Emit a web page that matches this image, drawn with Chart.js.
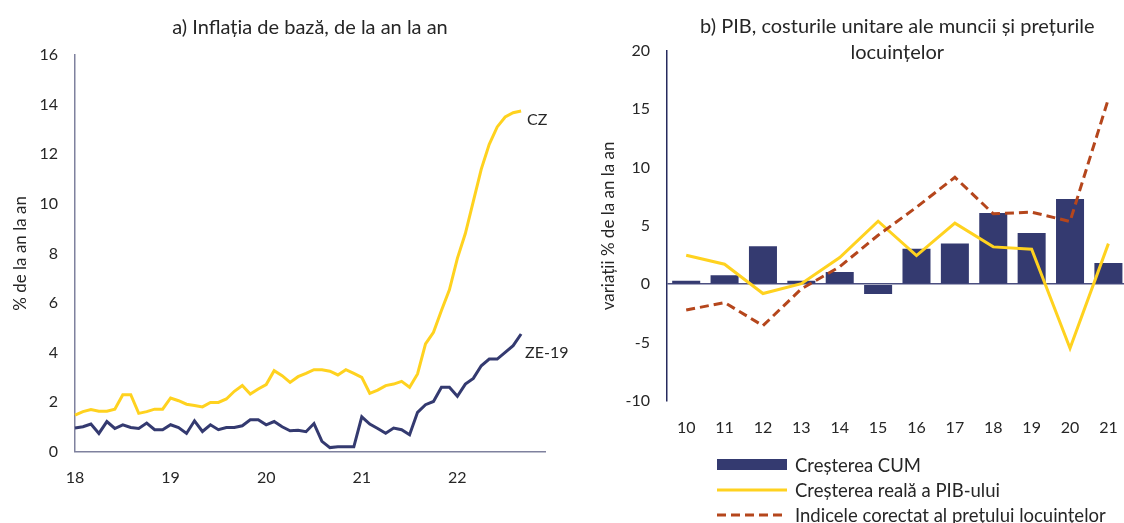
<!DOCTYPE html>
<html>
<head>
<meta charset="utf-8">
<script src="https://cdn.jsdelivr.net/npm/chart.js@4"></script>
<style>
  html, body { margin: 0; padding: 0; background: #fff; }
  body { width: 1124px; height: 523px; overflow: hidden; position: relative; font-family: Lato, sans-serif; color: #262626; }
  #left-wrap { position: absolute; left: 0; top: 0; width: 570px; height: 523px; }
  #right-wrap { position: absolute; left: 575px; top: 0; width: 560px; height: 523px; }
  #legend { position: absolute; left: 717px; top: 452px; font-size: 18.5px; }
  .legend-row { display: flex; align-items: center; height: 25px; }
  .swatch { width: 70px; margin-right: 8px; display: flex; align-items: center; }
</style>
</head>
<body>
<div id="left-wrap"><canvas id="core-chart"></canvas></div>
<div id="right-wrap"><canvas id="gdp-chart"></canvas></div>
<div id="legend"></div>
<script>
// Left chart: core inflation, monthly from Jan 2018
const years = ['18', '19', '20', '21', '22'];
const czInflation = [
    1.48, 1.62, 1.70, 1.64, 1.64, 1.72, 2.30, 2.30, 1.55, 1.62, 1.72, 1.72,
    2.17, 2.06, 1.92, 1.87, 1.81, 1.99, 1.99, 2.13, 2.44, 2.67, 2.33, 2.53,
    2.71, 3.27, 3.07, 2.80, 3.03, 3.16, 3.31, 3.31, 3.25, 3.10, 3.31, 3.16,
    3.00, 2.36, 2.49, 2.67, 2.73, 2.84, 2.60, 3.14, 4.35, 4.82, 5.70, 6.53,
    7.80, 8.80, 10.10, 11.40, 12.40, 13.10, 13.50, 13.67, 13.74
];
const ezInflation = [
    0.96, 1.01, 1.12, 0.74, 1.22, 0.94, 1.09, 0.98, 0.94, 1.16, 0.89, 0.89,
    1.09, 0.98, 0.74, 1.25, 0.82, 1.09, 0.89, 0.98, 0.98, 1.05, 1.29, 1.29,
    1.09, 1.22, 1.01, 0.85, 0.87, 0.81, 1.14, 0.42, 0.17, 0.20, 0.20, 0.20,
    1.41, 1.12, 0.94, 0.75, 0.96, 0.89, 0.69, 1.59, 1.90, 2.03, 2.60, 2.60,
    2.24, 2.73, 2.96, 3.47, 3.74, 3.74, 4.01, 4.28, 4.75
];

// Right chart: yearly
const yearLabels = ['10', '11', '12', '13', '14', '15', '16', '17', '18', '19', '20', '21'];
const ulcGrowth = [0.30, 0.77, 3.25, 0.30, 1.05, -0.85, 3.05, 3.48, 6.10, 4.40, 7.30, 1.82];
const gdpGrowth = [2.48, 1.71, -0.80, 0.05, 2.28, 5.40, 2.45, 5.24, 3.20, 3.00, -5.50, 3.48];
const housePrices = [-2.22, -1.57, -3.56, -0.40, 1.50, 4.20, 6.60, 9.17, 6.04, 6.18, 5.38, 15.90];

const NAVY = '#343a70';
const YELLOW = '#ffd21f';
const RUST = '#b5461c';
const TEXT = '#262626';

Chart.defaults.font.family = 'Lato, sans-serif';
Chart.defaults.font.size = 16;
Chart.defaults.color = TEXT;

// month labels, one per month, only January gets shown
const months = [];
years.forEach(y => {
    for (let m = 1; m <= 12; m++) months.push(y + '-' + m);
});

// writes the series name next to the last point
const endLabels = {
    id: 'endLabels',
    afterDatasetsDraw(chart) {
        const ctx = chart.ctx;
        chart.data.datasets.forEach((ds, i) => {
            const pts = chart.getDatasetMeta(i).data;
            const last = pts[pts.length - 1];
            ctx.save();
            ctx.font = '16px Lato, sans-serif';
            ctx.fillStyle = TEXT;
            ctx.textBaseline = 'middle';
            ctx.fillText(ds.label, last.x + ds.labelDx, last.y + ds.labelDy);
            ctx.restore();
        });
    }
};

const coreCanvas = document.getElementById('core-chart');
let coreChart = new Chart(coreCanvas, {
    type: 'line',
    data: {
        labels: months,
        datasets: [{
            label: 'CZ',
            data: czInflation,
            borderColor: YELLOW,
            borderWidth: 3,
            pointRadius: 0,
            tension: 0,
            labelDx: 6,
            labelDy: 9
        }, {
            label: 'ZE-19',
            data: ezInflation,
            borderColor: NAVY,
            borderWidth: 3,
            pointRadius: 0,
            tension: 0,
            labelDx: 4,
            labelDy: 19
        }]
    },
    options: {
        responsive: true,
        maintainAspectRatio: false,
        animation: false,
        layout: { padding: { left: 0, right: 25, top: 0, bottom: 20 } },
        scales: {
            x: {
                offset: false,
                grid: { display: false, drawTicks: false },
                border: { color: '#7f819e', width: 1.5 },
                ticks: {
                    autoSkip: false,
                    maxRotation: 0,
                    padding: 16,
                    callback: (val, i) => i % 12 === 0 ? years[i / 12] : ''
                }
            },
            y: {
                min: 0,
                max: 16,
                grid: { display: false, drawTicks: false },
                border: { color: '#7f819e', width: 1.5 },
                ticks: { stepSize: 2, padding: 17 },
                title: {
                    display: true,
                    text: '% de la an la an',
                    font: { size: 17 },
                    padding: { top: 10, bottom: 0 }
                },
                afterFit(scale) { scale.width = 75; }
            }
        },
        plugins: {
            legend: { display: false },
            tooltip: { enabled: false },
            title: {
                display: true,
                fullSize: false,
                text: 'a) Inflația de bază, de la an la an',
                color: TEXT,
                font: { size: 20, weight: 'normal', lineHeight: 1.3 },
                padding: { top: 15, bottom: 14 }
            }
        }
    },
    plugins: [endLabels]
});

const gdpCanvas = document.getElementById('gdp-chart');
let gdpChart = new Chart(gdpCanvas, {
    type: 'bar',
    data: {
        labels: yearLabels,
        datasets: [{
            type: 'bar',
            label: 'Creșterea CUM',
            data: ulcGrowth,
            backgroundColor: NAVY,
            barPercentage: 0.73,
            categoryPercentage: 1,
            order: 3
        }, {
            type: 'line',
            label: 'Creșterea reală a PIB-ului',
            data: gdpGrowth,
            borderColor: YELLOW,
            borderWidth: 3,
            pointRadius: 0,
            order: 2
        }, {
            type: 'line',
            label: 'Indicele corectat al prețului locuințelor',
            data: housePrices,
            borderColor: RUST,
            borderWidth: 3,
            borderDash: [9, 5],
            pointRadius: 0,
            order: 1
        }]
    },
    options: {
        responsive: true,
        maintainAspectRatio: false,
        animation: false,
        layout: { padding: { left: 0, right: 6, top: 0, bottom: 69 } },
        scales: {
            x: {
                grid: { display: false, drawTicks: false },
                border: { display: false },
                ticks: { padding: 17, maxRotation: 0 }
            },
            y: {
                min: -10,
                max: 20,
                grid: {
                    drawTicks: false,
                    lineWidth: 1.5,
                    color: ctx => ctx.tick && ctx.tick.value === 0 ? '#4b4f80' : 'transparent'
                },
                border: { color: '#262b5e', width: 1.5 },
                ticks: { stepSize: 5, padding: 17 },
                title: {
                    display: true,
                    text: 'variații % de la an la an',
                    font: { size: 17 },
                    padding: { top: 23, bottom: 0 }
                },
                afterFit(scale) { scale.width = 92; }
            }
        },
        plugins: {
            legend: { display: false },
            tooltip: { enabled: false },
            title: {
                display: true,
                fullSize: false,
                text: ['b) PIB, costurile unitare ale muncii și prețurile', 'locuințelor'],
                color: TEXT,
                font: { size: 20, weight: 'normal', lineHeight: 1.3 },
                padding: { top: 14, bottom: -15 }
            }
        }
    }
});

// Legend (html, one row per series)
const legendBox = document.getElementById('legend');
gdpChart.data.datasets.forEach(ds => {
    const row = document.createElement('div');
    row.className = 'legend-row';
    let swatch;
    if (ds.type === 'bar') {
        swatch = `<div style="width:70px;height:11px;background:${ds.backgroundColor}"></div>`;
    } else {
        const dash = ds.borderDash ? ds.borderDash.join(' ') : 'none';
        swatch = `<svg width="70" height="6"><line x1="0" y1="3" x2="70" y2="3" stroke="${ds.borderColor}" stroke-width="3" stroke-dasharray="${dash}"/></svg>`;
    }
    row.innerHTML = `<div class="swatch">${swatch}</div><span>${ds.label}</span>`;
    legendBox.appendChild(row);
});
</script>
</body>
</html>
